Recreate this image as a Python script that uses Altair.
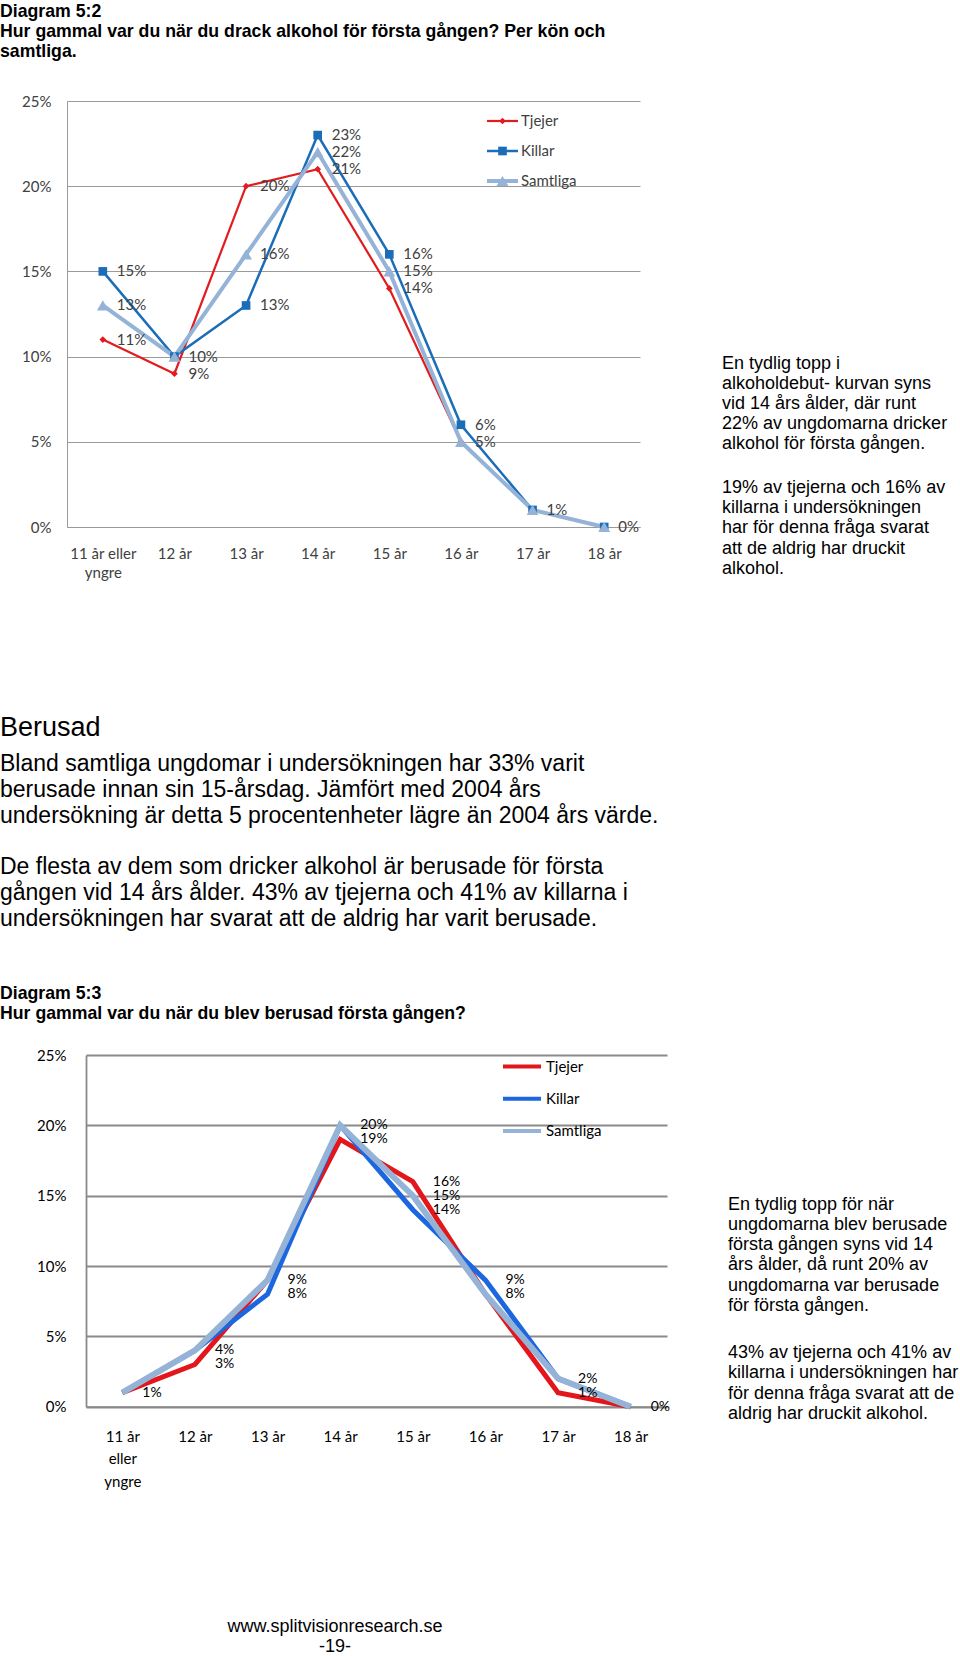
import altair as alt
import pandas as pd

# ---------------- data ----------------
ages = ["11 år eller yngre", "12 år", "13 år", "14 år", "15 år", "16 år", "17 år", "18 år"]
series_names = ["Tjejer", "Killar", "Samtliga"]
y_ticks = [0, 5, 10, 15, 20, 25]

# Diagram 5:2 – first time drinking alcohol (%)
d52_tjejer = [11, 9, 20, 21, 14, 5, 1, 0]
d52_killar = [15, 10, 13, 23, 16, 6, 1, 0]
d52_samtliga = [13, 10, 16, 22, 15, 5, 1, 0]

# Diagram 5:3 – first time drunk (%)
d53_tjejer = [1, 3, 9, 19, 16, 8, 1, 0]
d53_killar = [1, 4, 8, 20, 14, 9, 2, 0]
d53_samtliga = [1, 4, 9, 20, 15, 8, 2, 0]

# ---------------- texts ----------------
title52 = "Diagram 5:2\nHur gammal var du när du drack alkohol för första gången? Per kön och\nsamtliga."
side52_a = "En tydlig topp i\nalkoholdebut- kurvan syns\nvid 14 års ålder, där runt\n22% av ungdomarna dricker\nalkohol för första gången."
side52_b = "19% av tjejerna och 16% av\nkillarna i undersökningen\nhar  för denna fråga svarat\natt de aldrig har druckit\nalkohol."
heading = "Berusad"
para_a = ("Bland samtliga ungdomar i undersökningen har 33% varit\n"
          "berusade innan sin 15-årsdag. Jämfört med 2004 års\n"
          "undersökning är detta 5 procentenheter lägre än 2004 års värde.")
para_b = ("De flesta av dem som dricker alkohol är berusade för första\n"
          "gången vid 14 års ålder. 43% av tjejerna och 41% av killarna i\n"
          "undersökningen har svarat att de aldrig har varit berusade.")
title53 = "Diagram 5:3\nHur gammal var du när du blev berusad första gången?"
side53_a = ("En tydlig topp för när\nungdomarna blev berusade\nförsta gången syns vid 14\n"
            "års ålder, då runt 20% av\nungdomarna var berusade\nför första gången.")
side53_b = ("43% av tjejerna och 41% av\nkillarna i undersökningen har\n"
            "för denna fråga svarat att de\naldrig har druckit alkohol.")
footer_url = "www.splitvisionresearch.se"
footer_page = "-19-"

CHART_FONT = "Lato"
TEXT_FONT = "Liberation Sans"


def long_df(tj, ki, sa):
    rows = []
    for s, vals in zip(series_names, [tj, ki, sa]):
        for a, v in zip(ages, vals):
            rows.append({"age": a, "series": s, "value": v})
    return pd.DataFrame(rows)


df52 = long_df(d52_tjejer, d52_killar, d52_samtliga)
df53 = long_df(d53_tjejer, d53_killar, d53_samtliga)
leg_df = pd.DataFrame({"series": series_names})


def panel(df, x_range, y_range, x_off, y_off, colors, widths, markers, label_expr,
          x_lab_pad, x_lab_lh, y_lab_pad, lab_color, grid_color, grid_w, dx, lab_size):
    x = alt.X("age:N", sort=ages,
              scale=alt.Scale(type="point", domain=ages, range=x_range, padding=0.5),
              axis=alt.Axis(title=None, orient="bottom", offset=x_off, ticks=False, grid=False,
                            domainColor=grid_color, domainWidth=grid_w, labelExpr=label_expr,
                            labelFont=CHART_FONT, labelFontSize=15, labelColor=lab_color,
                            labelPadding=x_lab_pad, labelLineHeight=x_lab_lh, labelAngle=0,
                            labelOverlap=False, labelBaseline="top"))
    y = alt.Y("value:Q",
              scale=alt.Scale(domain=[0, 25], range=y_range, nice=False, zero=True),
              axis=alt.Axis(title=None, orient="left", offset=y_off, values=y_ticks,
                            labelExpr="datum.value + '%'", ticks=False, grid=True,
                            gridColor=grid_color, gridWidth=grid_w, domainColor=grid_color,
                            domainWidth=grid_w, labelFont=CHART_FONT, labelFontSize=15,
                            labelColor=lab_color, labelPadding=y_lab_pad, labelFlush=False,
                            labelOverlap=False))
    base = alt.Chart(df).encode(x=x, y=y)
    layers = []
    for s in series_names:
        layers.append(base.transform_filter(alt.datum.series == s)
                      .mark_line(color=colors[s], strokeWidth=widths[s], strokeJoin="miter"))
    if markers:
        for s in series_names:
            shp, size = markers[s]
            layers.append(base.transform_filter(alt.datum.series == s)
                          .mark_point(filled=True, shape=shp, size=size, color=colors[s], opacity=1))
    # one data label per distinct (age, value) – coinciding series share a label
    layers.append(base.transform_aggregate(n="count()", groupby=["age", "value"])
                  .transform_calculate(lab="datum.value + '%'")
                  .mark_text(align="left", baseline="middle", dx=dx, font=CHART_FONT,
                             fontSize=lab_size, color=lab_color)
                  .encode(text="lab:N"))
    return alt.layer(*layers)


def legend(y_range, x1, x2, xt, colors, widths, markers, lab_color):
    yl = alt.Y("series:N", scale=alt.Scale(type="point", domain=series_names, range=y_range, padding=0),
               axis=None)
    base = alt.Chart(leg_df).encode(y=yl)
    layers = []
    for s in series_names:
        f = base.transform_filter(alt.datum.series == s)
        layers.append(f.mark_rule(color=colors[s], strokeWidth=widths[s])
                      .encode(x=alt.value(x1), x2=alt.value(x2)))
        if markers:
            shp, size = markers[s]
            layers.append(f.mark_point(filled=True, shape=shp, size=size, color=colors[s], opacity=1)
                          .encode(x=alt.value((x1 + x2) / 2)))
    layers.append(base.mark_text(align="left", baseline="middle", font=CHART_FONT, fontSize=15,
                                 color=lab_color).encode(x=alt.value(xt), text="series:N"))
    return alt.layer(*layers)


def text_block(txt, x, y, size, bold=False, line_h=None, align="left"):
    return alt.Chart(pd.DataFrame({"t": [txt]})).mark_text(
        align=align, baseline="alphabetic", font=TEXT_FONT, fontSize=size,
        fontWeight="bold" if bold else "normal", color="#000000", lineBreak="\n",
        lineHeight=line_h if line_h else size * 1.15
    ).encode(text="t:N", x=alt.value(x), y=alt.value(y))


H = 1656
W = 960

col52 = {"Tjejer": "#E21B1E", "Killar": "#1B6DB8", "Samtliga": "#95B3D7"}
wid52 = {"Tjejer": 2.2, "Killar": 2.5, "Samtliga": 4}
mk52 = {"Tjejer": ("diamond", 45), "Killar": ("square", 75), "Samtliga": ("triangle-up", 140)}

col53 = {"Tjejer": "#E3161B", "Killar": "#1C66DF", "Samtliga": "#95B3D7"}
wid53 = {"Tjejer": 5, "Killar": 5, "Samtliga": 6}

chart52 = panel(df52, [67, 640], [527, 101], 527 - H, -67, col52, wid52, mk52,
                "datum.value == '11 år eller yngre' ? ['11 år eller', 'yngre'] : datum.value",
                19, 19, 16, "#404040", "#9a9a9a", 1, 14, 15)
leg52 = legend([121, 181], 487, 518, 521, col52, wid52, mk52, "#404040")

chart53 = panel(df53, [86, 667], [1406.7, 1055], 1406.7 - H, -86, col53, wid53, None,
                "datum.value == '11 år eller yngre' ? ['11 år', 'eller', 'yngre'] : datum.value",
                23, 22.3, 20, "#000000", "#8a8a8a", 1.8, 20, 14)
leg53 = legend([1066.6, 1131], 503, 541, 546, col53, {s: 4 for s in series_names}, None, "#000000")

texts = [
    text_block(title52, 0, 16.9, 17.7, bold=True, line_h=20.3),
    text_block(side52_a, 722, 368.5, 18, line_h=20.2),
    text_block(side52_b, 722, 493, 18, line_h=20.2),
    text_block(heading, 0, 736, 27),
    text_block(para_a, 0, 770.5, 23, line_h=26.3),
    text_block(para_b, 0, 873.5, 23, line_h=26.3),
    text_block(title53, 0, 999, 17.7, bold=True, line_h=20.3),
    text_block(side53_a, 728, 1209.5, 18, line_h=20.3),
    text_block(side53_b, 728, 1358, 18, line_h=20.3),
    text_block(footer_url, 335, 1632, 18, align="center"),
    text_block(footer_page, 335, 1652, 18, align="center"),
]

chart = alt.layer(chart52, leg52, chart53, leg53, *texts).resolve_scale(
    x="independent", y="independent"
).properties(
    width=W, height=H, padding=0, autosize=alt.AutoSizeParams(type="none"),
    background="white"
).configure_view(stroke=None)

chart.save("out.html", embed_options={"renderer": "svg", "actions": False})
